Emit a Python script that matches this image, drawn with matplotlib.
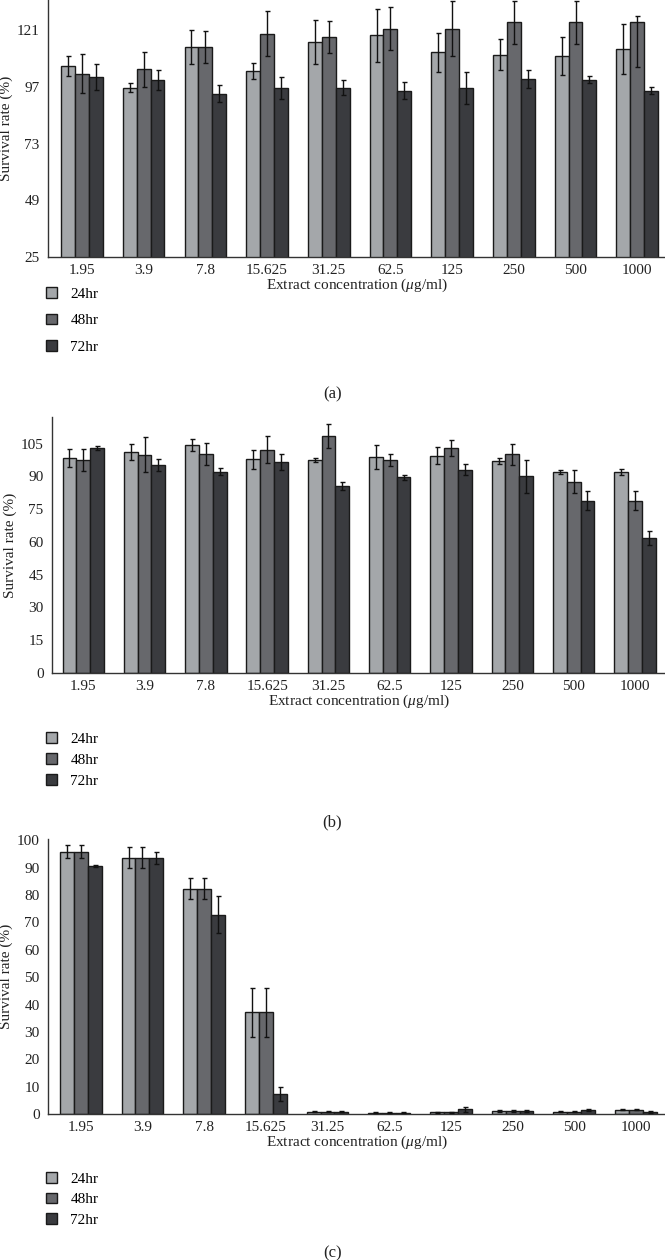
import matplotlib.pyplot as plt
from matplotlib.patches import Patch

plt.rcParams['font.family'] = ['Liberation Serif', 'DejaVu Serif']
plt.rcParams['mathtext.fontset'] = 'custom'
plt.rcParams['mathtext.it'] = 'Liberation Serif:italic'
plt.rcParams['mathtext.rm'] = 'Liberation Serif'

concentrations = ["1.95", "3.9", "7.8", "15.625", "31.25", "62.5", "125", "250", "500", "1000"]
series_names = ["24hr", "48hr", "72hr"]
colors = ["#a4a7aa", "#67686c", "#3a3b3f"]

######## Panel (a) ########
a_24 = [105.8, 96.6, 113.9, 103.7, 116.0, 118.7, 111.5, 110.6, 110.0, 113.0]
a_48 = [102.6, 104.4, 113.9, 119.5, 118.1, 121.6, 121.6, 124.2, 124.2, 124.2]
a_72 = [101.2, 99.8, 94.1, 96.6, 96.6, 95.4, 96.4, 100.3, 100.0, 95.4]
a_24_err = [4.3, 1.9, 7.3, 3.4, 9.2, 11.2, 8.3, 6.5, 8.2, 10.7]
a_48_err_lo = [8.2, 7.5, 6.8, 9.4, 6.9, 9.0, 11.7, 9.2, 9.2, 19.0]
a_48_err_hi = [8.2, 7.5, 6.8, 9.4, 6.9, 9.0, 11.7, 9.2, 9.2, 2.7]
a_72_err = [5.5, 4.2, 3.5, 4.7, 3.2, 3.5, 6.8, 4.0, 1.5, 1.6]

######## Panel (b) ########
b_24 = [98.3, 101.0, 104.4, 97.9, 97.4, 98.8, 99.5, 97.1, 92.2, 92.2]
b_48 = [97.4, 100.0, 100.2, 102.3, 108.5, 97.6, 103.0, 100.2, 87.6, 78.9]
b_72 = [103.0, 95.3, 92.2, 96.6, 85.8, 89.6, 93.1, 90.1, 78.8, 61.7]
b_24_err = [4.1, 3.7, 2.9, 4.4, 1.0, 5.4, 4.0, 1.5, 0.9, 1.4]
b_48_err = [5.0, 8.0, 5.0, 6.2, 5.4, 2.8, 3.7, 4.8, 5.3, 4.5]
b_72_err = [1.0, 2.6, 1.5, 3.7, 1.8, 1.1, 2.4, 7.6, 4.4, 3.2]

######## Panel (c) ########
c_24 = [95.9, 93.7, 82.4, 37.1, 0.9, 0.5, 0.7, 1.2, 0.85, 1.6]
c_48 = [95.9, 93.7, 82.4, 37.1, 0.9, 0.5, 0.7, 1.2, 0.9, 1.6]
c_72 = [90.6, 93.7, 72.9, 7.2, 0.9, 0.5, 1.7, 1.2, 1.5, 0.7]
c_24_err = [2.5, 3.8, 3.7, 9.0, 0.3, 0.2, 0.2, 0.4, 0.3, 0.2]
c_48_err = [2.5, 3.8, 3.7, 9.0, 0.3, 0.2, 0.2, 0.4, 0.3, 0.2]
c_72_err = [0.3, 2.2, 6.6, 2.5, 0.3, 0.2, 0.8, 0.4, 0.3, 0.3]

W, H = 665, 1260
fig = plt.figure(figsize=(W / 100, H / 100), dpi=100)
fs = 11

panels = [
    # values, errors, ylim, yticks, axes box in px (left, top, bottom), text rows in px
    dict(vals=[a_24, a_48, a_72], errs=[a_24_err, [a_48_err_lo, a_48_err_hi], a_72_err],
         ylim=(25, 133.7), yticks=[25, 49, 73, 97, 121], box=(48, 0, 257),
         xlim=(-0.55, 9.45), legend_top=287, legend_gap=0.85, label_y=394, tag="(a)"),
    dict(vals=[b_24, b_48, b_72], errs=[b_24_err, b_48_err, b_72_err],
         ylim=(0, 117.2), yticks=list(range(0, 106, 15)), box=(52, 417, 673),
         xlim=(-0.51, 9.49), legend_top=732, legend_gap=0.48, label_y=822, tag="(b)"),
    dict(vals=[c_24, c_48, c_72], errs=[c_24_err, c_48_err, c_72_err],
         ylim=(0, 100.5), yticks=list(range(0, 101, 10)), box=(48, 839, 1114),
         xlim=(-0.53, 9.47), legend_top=1172, legend_gap=0.45, label_y=1253, tag="(c)"),
]

x = list(range(len(concentrations)))
bar_w = 0.225

for p in panels:
    left, top, bottom = p["box"]
    ax = fig.add_axes([left / W, (H - bottom) / H, (W - left) / W, (bottom - top) / H])

    for i, (vals, err) in enumerate(zip(p["vals"], p["errs"])):
        pos = [xi + (i - 1) * bar_w for xi in x]
        ax.bar(pos, vals, width=bar_w, color=colors[i], edgecolor="#1a1a1a", linewidth=1.0,
               zorder=2)
        ax.errorbar(pos, vals, yerr=err, fmt="none", ecolor="#111111", elinewidth=1.0,
                    capsize=1.8, capthick=1.0, zorder=3)

    ax.set_xlim(*p["xlim"])
    ax.set_ylim(*p["ylim"])
    ax.set_yticks(p["yticks"])
    ax.set_xticks(x)
    ax.set_xticklabels(concentrations)
    ax.tick_params(axis="both", length=0, labelsize=fs, colors="#222222")
    ax.tick_params(axis="y", pad=6)
    ax.tick_params(axis="x", pad=5)
    for s in ["top", "right"]:
        ax.spines[s].set_visible(False)
    for s in ["left", "bottom"]:
        ax.spines[s].set_color("#333333")
        ax.spines[s].set_linewidth(1.0)
    ax.set_ylabel("Survival rate (%)", fontsize=fs, labelpad=3, color="#222222")
    ax.set_xlabel(r"Extract concentration ($\mathit{\mu}$g/ml)", fontsize=fs, labelpad=0,
                  color="#222222")

    handles = [Patch(facecolor=colors[i], edgecolor="#1a1a1a", linewidth=1.0, label=series_names[i])
               for i in range(3)]
    fig.legend(handles=handles, loc="upper left", bbox_to_anchor=(46 / W, (H - p["legend_top"]) / H),
               frameon=False, fontsize=fs, handlelength=0.7, handleheight=0.7,
               handletextpad=0.9, labelspacing=p["legend_gap"], borderaxespad=0, borderpad=0)

    fig.text(0.5, (H - p["label_y"]) / H, p["tag"], ha="center", va="center", fontsize=fs + 1,
             color="#222222")

fig.savefig("out.png", dpi=100, facecolor="white")
